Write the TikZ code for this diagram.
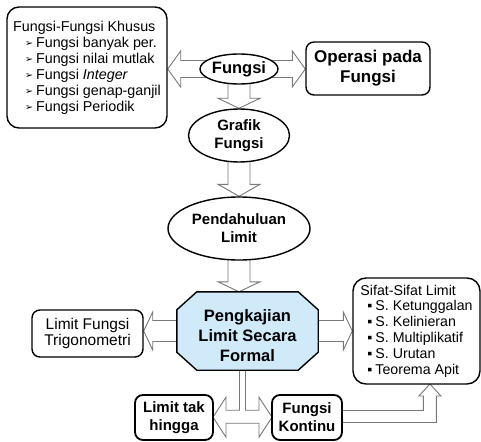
\documentclass[tikz,border=0pt]{standalone}
\usepackage{fontspec}
\setmainfont{Liberation Sans}
\newfontfamily\dejavu{DejaVu Sans}
\usetikzlibrary{shapes.geometric,positioning,backgrounds,calc}

\definecolor{kajianblue}{RGB}{208,234,250}
\definecolor{arrowgray}{RGB}{120,120,120}

\newcommand{\arrowitem}{\hspace*{12pt}\raisebox{0.5pt}{\dejavu\fontsize{9.5}{9.5}\selectfont ➢}\hspace{3pt}}
\newcommand{\squareitem}{\hspace*{7pt}▪\hspace{3pt}}

\begin{document}
\begin{tikzpicture}[x=1pt,y=-1pt,on grid,auto,
    box/.style={rectangle,draw,line width=1.4pt,rounded corners=8pt,fill=white,
      align=center,inner sep=0pt},
    oval/.style={ellipse,draw,line width=1.4pt,fill=white,align=center,inner sep=0pt},
    blockarrow/.style={draw=arrowgray,fill=white,line width=0.9pt,line join=miter},
    kajianline/.style={draw,fill=kajianblue,line width=1.4pt}]
  \useasboundingbox (0,0) rectangle (481,441);

% alur tengah
  \node[oval,minimum width=78pt,minimum height=30pt,font=\fontsize{16.5}{20}\selectfont\bfseries]
    (fungsi) at (239,69) {Fungsi};
  \node[oval,minimum width=101pt,minimum height=53pt,font=\fontsize{15}{18}\selectfont\bfseries]
    (grafik) [below=66.5pt of fungsi] {Grafik\\Fungsi};
  \node[oval,minimum width=142pt,minimum height=63pt,font=\fontsize{15}{18}\selectfont\bfseries]
    (pendahuluan) [below=93pt of grafik] {Pendahuluan\\Limit};
  \node[minimum width=141pt,minimum height=78pt,inner sep=0pt,font=\fontsize{16.5}{20}\selectfont\bfseries]
    (kajian) at (247.5,331)
    {\raisebox{-6pt}[\height][\depth]{\begin{tabular}{@{}c@{}}Pengkajian\\Limit Secara\\Formal\end{tabular}}};

% kotak di sekeliling
  \node[box,rounded corners=12pt,minimum width=160pt,minimum height=121pt,align=left,
    font=\fontsize{14.3}{16}\selectfont] (khusus) at (87,67.5)
    {Fungsi-Fungsi Khusus\\ \arrowitem Fungsi banyak per.\\ \arrowitem Fungsi nilai mutlak\\
     \arrowitem Fungsi \textit{Integer}\\ \arrowitem Fungsi genap-ganjil\\ \arrowitem Fungsi Periodik};
  \node[box,minimum width=124pt,minimum height=53pt,font=\fontsize{17}{20}\selectfont\bfseries]
    (operasi) at (368,68.5) {Operasi pada\\Fungsi};
  \node[box,minimum width=111pt,minimum height=47pt,font=\fontsize{15.5}{16.5}\selectfont]
    (trig) at (87.5,333.5) {Limit Fungsi\\Trigonometri};
  \node[box,rounded corners=13pt,minimum width=127pt,minimum height=106pt,align=left,
    font=\fontsize{14.2}{15.8}\selectfont] (sifat) at (416.5,331)
    {Sifat-Sifat Limit\\ \squareitem S. Ketunggalan\\ \squareitem S. Kelinieran\\
     \squareitem S. Multiplikatif\\ \squareitem S. Urutan\\ \squareitem Teorema Apit};
  \node[box,line width=1.8pt,minimum width=78pt,minimum height=45pt,font=\fontsize{15}{18}\selectfont\bfseries]
    (taktingga) at (174,417.5) {Limit tak\\hingga};
  \node[box,line width=1.8pt,minimum width=70pt,minimum height=45pt,font=\fontsize{15}{18}\selectfont\bfseries]
    (kontinu) at (307,417.5) {Fungsi\\Kontinu};
  \coordinate (fork) at ($(taktingga.east)!0.5!(kontinu.west)$);

% panah blok di belakang simpul
  \begin{scope}[on background layer]
    \draw[blockarrow,shift={(khusus.east |- fungsi.center)}]
      (0,0) -- (13,-18) -- (13,-8.5) -- (50,-8.5) -- (50,8.5) -- (13,8.5) -- (13,18) -- cycle;
    \draw[blockarrow,shift={(operasi.west |- fungsi.center)}]
      (0,0) -- (-13,-18) -- (-13,-8.5) -- (-50,-8.5) -- (-50,8.5) -- (-13,8.5) -- (-13,18) -- cycle;
    \draw[blockarrow,shift={(grafik.north)}]
      (0,0) -- (-21,-10) -- (-11,-10) -- (-11,-42) -- (11,-42) -- (11,-10) -- (21,-10) -- cycle;
    \draw[blockarrow,shift={(pendahuluan.north)}]
      (0,0) -- (-21,-12) -- (-11,-12) -- (-11,-45) -- (11,-45) -- (11,-12) -- (21,-12) -- cycle;
    \draw[blockarrow,shift={(pendahuluan.south |- kajian.north)}]
      (0,0) -- (-21,-10) -- (-11,-10) -- (-11,-45) -- (11,-45) -- (11,-10) -- (21,-10) -- cycle;
    \draw[blockarrow,shift={(trig.east |- kajian.center)}]
      (0,0) -- (9,-19) -- (9,-10.5) -- (45,-10.5) -- (45,10.5) -- (9,10.5) -- (9,19) -- cycle;
    \draw[blockarrow,shift={(sifat.west |- kajian.center)}]
      (0,0) -- (-9,-19) -- (-9,-10.5) -- (-45,-10.5) -- (-45,10.5) -- (-9,10.5) -- (-9,19) -- cycle;
    \draw[blockarrow,shift={(fork |- kajian.south)}]
      (-3,-5) -- (-3,40) -- (-16.5,40) -- (-16.5,27) -- (-29.5,47) -- (-16.5,67) -- (-16.5,53)
      -- (16.5,53) -- (16.5,67) -- (29.5,47) -- (16.5,27) -- (16.5,40) -- (3,40) -- (3,-5) -- cycle;
    \draw[blockarrow,shift={(kontinu.east)}]
      (-5,-7) -- (80.5,-7) -- (80.5,-21.5) -- (76,-21.5) -- (87,-33.5) -- (98,-21.5)
      -- (93.5,-21.5) -- (93.5,5) -- (-5,5) -- cycle;
    % segi delapan
    \draw[kajianline] ([xshift=20pt]kajian.north west) -- ([xshift=-20pt]kajian.north east)
      -- ([yshift=-18pt]kajian.north east) -- ([yshift=18pt]kajian.south east)
      -- ([xshift=-20pt]kajian.south east) -- ([xshift=20pt]kajian.south west)
      -- ([yshift=18pt]kajian.south west) -- ([yshift=-18pt]kajian.north west) -- cycle;
  \end{scope}
\end{tikzpicture}
\end{document}
